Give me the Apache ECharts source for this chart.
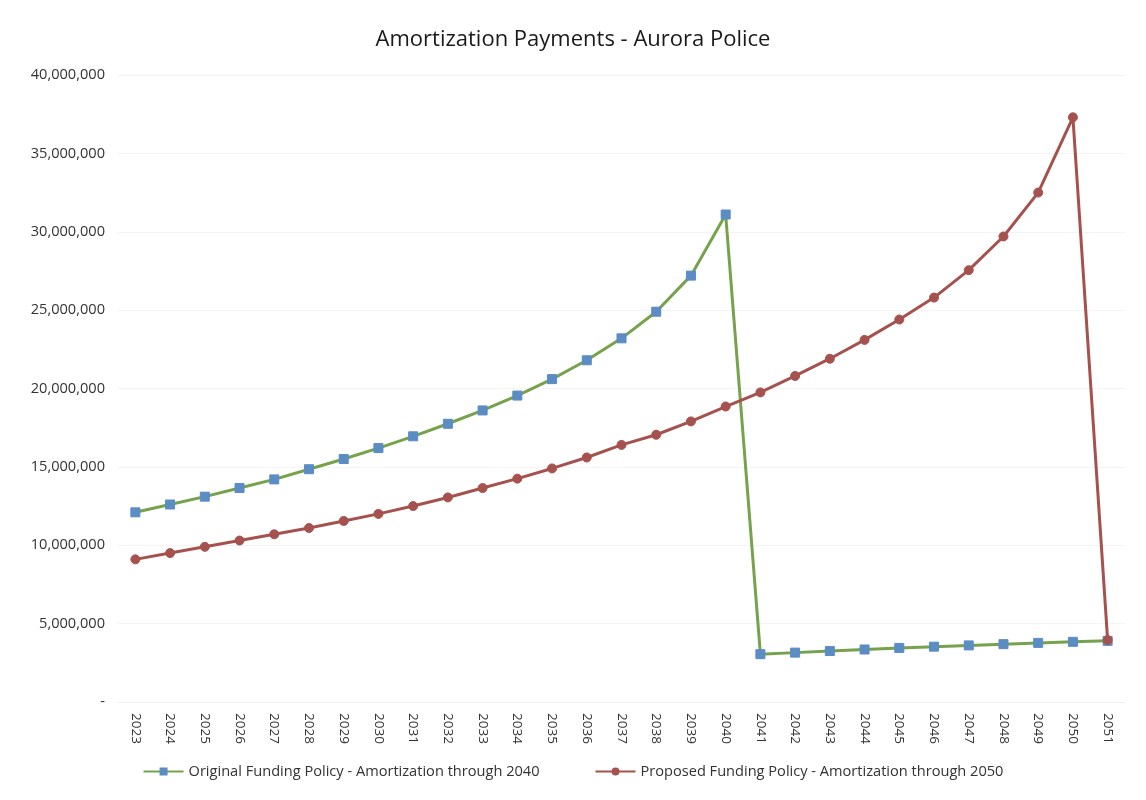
<!DOCTYPE html>
<html>
<head>
<meta charset="utf-8">
<script src="https://cdn.jsdelivr.net/npm/echarts@6/dist/echarts.min.js"></script>
<style>
html,body{margin:0;padding:0;background:#fff;}
#chart{width:1146px;height:800px;}
</style>
</head>
<body>
<div id="chart"></div>
<script>
const years = ['2023','2024','2025','2026','2027','2028','2029','2030','2031','2032','2033','2034','2035','2036','2037','2038','2039','2040','2041','2042','2043','2044','2045','2046','2047','2048','2049','2050','2051'];
const originalPolicy = [12100000,12600000,13100000,13650000,14200000,14850000,15500000,16200000,16950000,17750000,18600000,19550000,20600000,21800000,23200000,24900000,27200000,31100000,3050000,3150000,3250000,3350000,3450000,3530000,3610000,3690000,3770000,3840000,3900000];
const proposedPolicy = [9100000,9500000,9900000,10300000,10700000,11100000,11550000,12000000,12500000,13050000,13650000,14250000,14900000,15600000,16400000,17050000,17900000,18850000,19750000,20800000,21900000,23100000,24400000,25800000,27550000,29700000,32500000,37300000,3950000];
const seriesNames = ['Original Funding Policy - Amortization through 2040','Proposed Funding Policy - Amortization through 2050'];
const chartTitle = 'Amortization Payments - Aurora Police';

const font = '"Open Sans", "Liberation Sans", sans-serif';
const chart = echarts.init(document.getElementById('chart'), null, {renderer:'canvas'});
chart.setOption({
  backgroundColor:'#ffffff',
  animation:false,
  title:{text:chartTitle,left:'center',top:24,textStyle:{fontFamily:font,fontSize:22,fontWeight:'normal',color:'#1a1a1a'}},
  grid:{left:118,right:21,top:75,bottom:98},
  legend:{bottom:16,left:'center',itemGap:55,itemWidth:40,itemHeight:10,
    textStyle:{fontFamily:font,fontSize:14.6,color:'#333'},
    data:seriesNames},
  xAxis:{type:'category',data:years,boundaryGap:true,
    axisLine:{show:true,lineStyle:{color:'#eeeeee'}},
    axisTick:{show:false},
    axisLabel:{rotate:-90,fontFamily:font,fontSize:13.5,color:'#333',margin:11}},
  yAxis:{type:'value',min:0,max:40000000,interval:5000000,
    axisLine:{show:false},axisTick:{show:false},
    splitLine:{show:true,lineStyle:{color:'#f4f4f4'}},
    axisLabel:{fontFamily:font,fontSize:14.6,color:'#333',margin:13,
      formatter:function(v){return v===0?'-':v.toLocaleString('en-US');}}},
  series:[
    {name:seriesNames[0],type:'line',data:originalPolicy,symbol:'rect',symbolSize:9,
      lineStyle:{color:'#76a24c',width:3},itemStyle:{color:'#5b8cc4',borderColor:'#5b8cc4'}},
    {name:seriesNames[1],type:'line',data:proposedPolicy,symbol:'circle',symbolSize:9,
      lineStyle:{color:'#a5524f',width:3},itemStyle:{color:'#a5524f',borderColor:'#a5524f'}}
  ]
});
</script>
</body>
</html>
